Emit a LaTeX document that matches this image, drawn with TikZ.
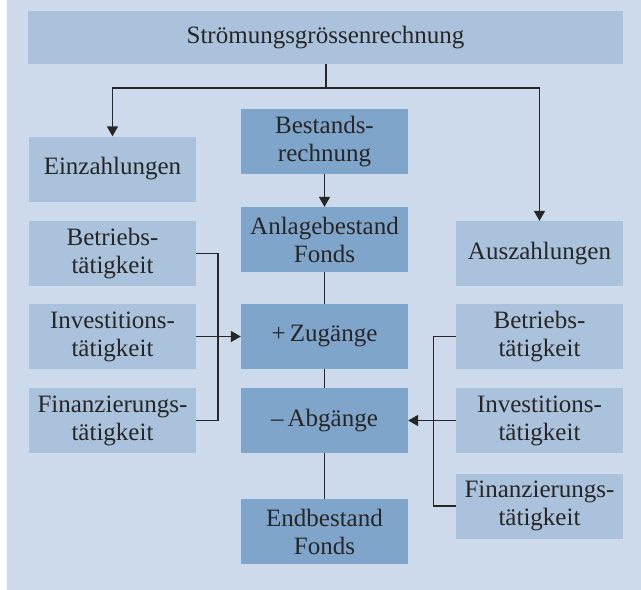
\documentclass[tikz,border=0pt]{standalone}
\usepackage{fontspec}
\setmainfont{Liberation Serif}
\usetikzlibrary{arrows.meta,positioning}
\definecolor{bgblue}{HTML}{CDDAEB}
\definecolor{lightbox}{HTML}{ABC2DC}
\definecolor{darkbox}{HTML}{80A5CB}
\definecolor{ink}{HTML}{262626}
\begin{document}
\begin{tikzpicture}[x=1pt,y=-1pt,
                    line/.style={line width=1.5pt,draw=ink},
                    arr/.style={line,-{Triangle[width=11pt,length=10pt]}},
                    box/.style={fill=lightbox,minimum width=167pt,minimum height=65pt,
                                align=center,inner sep=0pt,text=ink},
                    darkbx/.style={box,fill=darkbox},
                    every node/.style={font=\fontsize{25}{28}\selectfont}]
 \fill[bgblue] (7,0) rectangle (641,590);
 \useasboundingbox (0,0) rectangle (641,590);
 % top
 \node[box,minimum width=595pt,minimum height=53pt] (sgr) at (325.5,37.5) {Strömungsgrössenrechnung};
 % left column
 \node[box] (einz) at (112.5,169) {Einzahlungen};
 \node[box] (lbetr) at (112.5,253.5) {Betriebs-\\tätigkeit};
 \node[box] (linv) at (112.5,336.5) {Investitions-\\tätigkeit};
 \node[box] (lfin) at (112.5,420.5) {Finanzierungs-\\tätigkeit};
 % middle column
 \node[darkbx] (best) at (324.5,141.5) {Bestands-\\rechnung};
 \node[darkbx] (anf) at (324.5,239.5) {Anlagebestand\\Fonds};
 \node[darkbx] (zug) at (324.5,336.5) {+\,Zugänge};
 \node[darkbx] (abg) at (324.5,420.5) {–\,Abgänge};
 \node[darkbx] (end) at (324.5,531.5) {Endbestand\\Fonds};
 % right column
 \node[box] (ausz) at (539.5,253.5) {Auszahlungen};
 \node[box] (rbetr) at (539.5,336.5) {Betriebs-\\tätigkeit};
 \node[box] (rinv) at (539.5,420.5) {Investitions-\\tätigkeit};
 \node[box] (rfin) at (539.5,506) {Finanzierungs-\\tätigkeit};
 % connectors
 \coordinate (split) at (326,88);
 \coordinate (lbus) at (218,0);
 \coordinate (rbus) at (433.5,0);
 \draw[line] (sgr.south -| split)--(split);
 \draw[arr] (split)-|(einz.north);
 \draw[arr] (split)-|(ausz.north);
 \draw[arr] (best)--(anf);
 \draw[line] (anf)--(zug);
 \draw[line] (zug)--(abg);
 \draw[line] (abg)--(end);
 \draw[line] (lbetr.east)-|(lbus |- lfin.east)--(lfin.east);
 \draw[arr] (linv)--(zug);
 \draw[line] (rbetr.west)-|(rbus |- rfin.west)--(rfin.west);
 \draw[arr] (rinv)--(abg);
\end{tikzpicture}
\end{document}
